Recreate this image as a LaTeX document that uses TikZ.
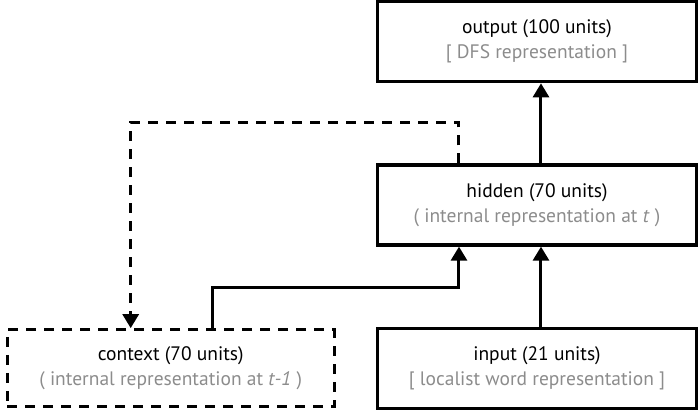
\documentclass[tikz,border=0pt]{standalone}
\usepackage{fontspec}
\setmainfont{PT Sans}
\usepackage{tikz}
\usetikzlibrary{arrows.meta, positioning}
\usepackage{xcolor}

\definecolor{notegray}{gray}{0.55}

\begin{document}
\begin{tikzpicture}[node distance=80pt, auto,
    layer/.style={draw, line width=3.3pt, rectangle, minimum width=319pt, minimum height=80pt,
        align=center, font=\fontsize{19.5}{25}\selectfont},
    ctxlayer/.style={layer, dash pattern=on 10pt off 8pt, minimum width=327pt, minimum height=77pt},
    conn/.style={line width=3pt, -{Triangle[width=16pt, length=14pt]}},
    fb/.style={conn, dash pattern=on 10pt off 8pt}]
    \useasboundingbox (-537pt,-211pt) rectangle (162pt,205pt);

    \node[layer] (hidden) at (0,0) {hidden (70 units)\\ \textcolor{notegray}{( internal representation at \textit{t} )}};
    \node[layer, above=of hidden] (output) {output (100 units)\\ \textcolor{notegray}{[ DFS representation ]}};
    \node[layer, below=of hidden] (input) {input (21 units)\\ \textcolor{notegray}{[ localist word representation ]}};
    \node[ctxlayer, left=40pt of input] (context) {context (70 units)\\ \textcolor{notegray}{( internal representation at \textit{t-1} )}};

    \draw[conn] ([xshift=4pt]hidden.north) -- ([xshift=4pt]output.south);
    \draw[conn] ([xshift=4pt]input.north) -- ([xshift=4pt]hidden.south);
    \draw[conn] ([xshift=42pt]context.north) -- ++(0,41pt) -| ([xshift=-78pt]hidden.south);
    \draw[fb] ([xshift=-78pt]hidden.north) -- ++(0,41pt) -| ([xshift=-40pt]context.north);
\end{tikzpicture}
\end{document}
